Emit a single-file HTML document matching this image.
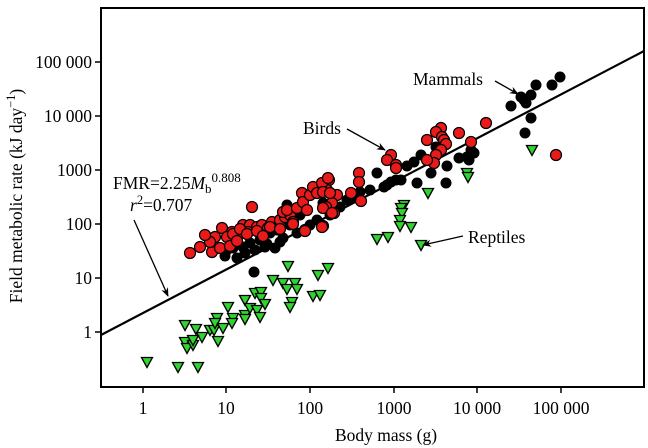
<!DOCTYPE html>
<html><head><meta charset="utf-8"><style>
html,body{margin:0;padding:0;background:#fff}
svg{display:block;font-family:"Liberation Serif",serif}
</style></head><body>
<svg width="648" height="448" viewBox="0 0 648 448" xmlns="http://www.w3.org/2000/svg">
<defs>
<marker id="ah" viewBox="0 0 10 10" refX="9" refY="5" markerWidth="9" markerHeight="9" orient="auto" markerUnits="userSpaceOnUse"><path d="M0,1 L10,5 L0,9 L3,5 Z" fill="#000"/></marker>
<path id="tri" d="M-5.5,-4.5 L5.5,-4.5 L0,5.5 Z" fill="#2fd42f" stroke="#000" stroke-width="1.3"/>
</defs>
<rect x="101" y="8" width="543" height="379" fill="none" stroke="#000" stroke-width="2"/>
<g stroke="#000" stroke-width="1.5">
<line x1="95" y1="62" x2="101" y2="62"/><line x1="95" y1="116" x2="101" y2="116"/><line x1="95" y1="170" x2="101" y2="170"/><line x1="95" y1="224" x2="101" y2="224"/><line x1="95" y1="278" x2="101" y2="278"/><line x1="95" y1="332" x2="101" y2="332"/>
<line x1="143" y1="387" x2="143" y2="393"/><line x1="226" y1="387" x2="226" y2="393"/><line x1="310" y1="387" x2="310" y2="393"/><line x1="394" y1="387" x2="394" y2="393"/><line x1="477" y1="387" x2="477" y2="393"/><line x1="561" y1="387" x2="561" y2="393"/>
</g>
<g font-size="17.5" text-anchor="end">
<text x="92" y="68">100 000</text><text x="92" y="122">10 000</text><text x="92" y="176">1000</text><text x="92" y="230">100</text><text x="92" y="284">10</text><text x="92" y="338">1</text>
</g>
<g font-size="17.5" text-anchor="middle">
<text x="143" y="414">1</text><text x="226" y="414">10</text><text x="310" y="414">100</text><text x="394" y="414">1000</text><text x="477" y="414">10 000</text><text x="561" y="414">100 000</text>
<text x="386" y="441">Body mass (g)</text>
</g>
<text transform="translate(22,196) rotate(-90)" font-size="17.5" text-anchor="middle">Field metabolic rate (kJ day<tspan dy="-7" font-size="12.5">−1</tspan><tspan dy="7">)</tspan></text>
<line x1="101" y1="335" x2="644" y2="51" stroke="#000" stroke-width="2.2"/>
<g fill="#000">
<circle cx="511" cy="106" r="5.5"/><circle cx="521" cy="97" r="5.5"/><circle cx="524" cy="100" r="5.5"/><circle cx="526" cy="103" r="5.5"/><circle cx="531" cy="95" r="5.5"/><circle cx="536" cy="85" r="5.5"/><circle cx="552" cy="85" r="5.5"/><circle cx="560" cy="77" r="5.5"/><circle cx="531" cy="118" r="5.5"/><circle cx="525" cy="133" r="5.5"/>
<circle cx="471" cy="150" r="5.5"/><circle cx="474" cy="153" r="5.5"/><circle cx="467" cy="157" r="5.5"/><circle cx="459" cy="158" r="5.5"/><circle cx="447" cy="166" r="5.5"/><circle cx="446" cy="183" r="5.5"/><circle cx="417" cy="183" r="5.5"/><circle cx="431" cy="173" r="5.5"/><circle cx="421" cy="155" r="5.5"/><circle cx="414" cy="162" r="5.5"/><circle cx="407" cy="166" r="5.5"/><circle cx="436" cy="147" r="5.5"/><circle cx="377" cy="173" r="5.5"/><circle cx="384" cy="187" r="5.5"/><circle cx="391" cy="182" r="5.5"/><circle cx="396" cy="180" r="5.5"/><circle cx="401" cy="180" r="5.5"/><circle cx="387" cy="185" r="5.5"/><circle cx="469" cy="160" r="5.5"/>
<circle cx="237" cy="258" r="5.5"/><circle cx="254" cy="272" r="5.5"/><circle cx="287" cy="205" r="5.5"/><circle cx="290" cy="213" r="5.5"/><circle cx="297" cy="233" r="5.5"/><circle cx="277" cy="230" r="5.5"/><circle cx="270" cy="233" r="5.5"/><circle cx="260" cy="240" r="5.5"/><circle cx="250" cy="243" r="5.5"/><circle cx="243" cy="247" r="5.5"/><circle cx="233" cy="248" r="5.5"/><circle cx="227" cy="250" r="5.5"/><circle cx="317" cy="220" r="5.5"/><circle cx="340" cy="207" r="5.5"/><circle cx="323" cy="203" r="5.5"/><circle cx="330" cy="215" r="5.5"/><circle cx="280" cy="242" r="5.5"/><circle cx="283" cy="238" r="5.5"/><circle cx="300" cy="215" r="5.5"/><circle cx="310" cy="225" r="5.5"/><circle cx="290" cy="225" r="5.5"/><circle cx="265" cy="247" r="5.5"/><circle cx="275" cy="248" r="5.5"/><circle cx="255" cy="250" r="5.5"/><circle cx="245" cy="253" r="5.5"/><circle cx="225" cy="256" r="5.5"/><circle cx="267" cy="244" r="5.5"/><circle cx="347" cy="200" r="5.5"/><circle cx="360" cy="192" r="5.5"/><circle cx="352" cy="197" r="5.5"/><circle cx="370" cy="190" r="5.5"/>
</g>
<g fill="#e81a1a" stroke="#000" stroke-width="1.2">
<circle cx="486" cy="123" r="5.5"/><circle cx="556" cy="155" r="5.5"/><circle cx="459" cy="133" r="5.5"/><circle cx="471" cy="142" r="5.5"/><circle cx="441" cy="128" r="5.5"/><circle cx="436" cy="132" r="5.5"/><circle cx="442" cy="137" r="5.5"/><circle cx="444" cy="140" r="5.5"/><circle cx="446" cy="144" r="5.5"/><circle cx="441" cy="150" r="5.5"/><circle cx="436" cy="155" r="5.5"/><circle cx="434" cy="163" r="5.5"/><circle cx="427" cy="160" r="5.5"/><circle cx="427" cy="140" r="5.5"/><circle cx="391" cy="155" r="5.5"/><circle cx="387" cy="160" r="5.5"/><circle cx="396" cy="165" r="5.5"/><circle cx="396" cy="168" r="5.5"/><circle cx="359" cy="173" r="5.5"/><circle cx="359" cy="182" r="5.5"/><circle cx="351" cy="193" r="5.5"/><circle cx="361" cy="201" r="5.5"/><circle cx="337" cy="195" r="5.5"/><circle cx="332" cy="203" r="5.5"/><circle cx="329" cy="180" r="5.5"/><circle cx="327" cy="190" r="5.5"/><circle cx="334" cy="213" r="5.5"/><circle cx="326" cy="207" r="5.5"/>
<circle cx="190" cy="253" r="5.5"/><circle cx="200" cy="247" r="5.5"/><circle cx="212" cy="252" r="5.5"/><circle cx="220" cy="248" r="5.5"/><circle cx="222" cy="228" r="5.5"/><circle cx="230" cy="238" r="5.5"/><circle cx="232" cy="232" r="5.5"/><circle cx="235" cy="240" r="5.5"/><circle cx="240" cy="230" r="5.5"/><circle cx="238" cy="235" r="5.5"/><circle cx="243" cy="225" r="5.5"/><circle cx="250" cy="225" r="5.5"/><circle cx="248" cy="232" r="5.5"/><circle cx="257" cy="227" r="5.5"/><circle cx="262" cy="225" r="5.5"/><circle cx="263" cy="233" r="5.5"/><circle cx="268" cy="228" r="5.5"/><circle cx="272" cy="222" r="5.5"/><circle cx="280" cy="220" r="5.5"/><circle cx="285" cy="217" r="5.5"/><circle cx="290" cy="215" r="5.5"/><circle cx="283" cy="212" r="5.5"/><circle cx="287" cy="210" r="5.5"/><circle cx="293" cy="222" r="5.5"/><circle cx="297" cy="208" r="5.5"/><circle cx="302" cy="193" r="5.5"/><circle cx="303" cy="202" r="5.5"/><circle cx="307" cy="210" r="5.5"/><circle cx="310" cy="195" r="5.5"/><circle cx="313" cy="187" r="5.5"/><circle cx="317" cy="193" r="5.5"/><circle cx="322" cy="183" r="5.5"/><circle cx="328" cy="178" r="5.5"/><circle cx="323" cy="192" r="5.5"/><circle cx="330" cy="193" r="5.5"/><circle cx="323" cy="208" r="5.5"/><circle cx="332" cy="213" r="5.5"/><circle cx="323" cy="226" r="5.5"/><circle cx="305" cy="230" r="5.5"/><circle cx="252" cy="207" r="5.5"/>
<circle cx="215" cy="237" r="5.5"/><circle cx="227" cy="237" r="5.5"/><circle cx="233" cy="234" r="5.5"/><circle cx="240" cy="229" r="5.5"/><circle cx="230" cy="246" r="5.5"/><circle cx="237" cy="241" r="5.5"/><circle cx="247" cy="234" r="5.5"/><circle cx="257" cy="231" r="5.5"/><circle cx="263" cy="236" r="5.5"/><circle cx="270" cy="227" r="5.5"/><circle cx="280" cy="229" r="5.5"/><circle cx="293" cy="224" r="5.5"/><circle cx="305" cy="231" r="5.5"/><circle cx="322" cy="227" r="5.5"/><circle cx="210" cy="242" r="5.5"/><circle cx="205" cy="235" r="5.5"/>
</g>
<g>
<use href="#tri" x="185" y="325"/><use href="#tri" x="196" y="329"/><use href="#tri" x="202" y="337"/><use href="#tri" x="185" y="342"/><use href="#tri" x="187" y="348"/><use href="#tri" x="193" y="345"/><use href="#tri" x="193" y="340"/><use href="#tri" x="210" y="330"/><use href="#tri" x="214" y="330"/><use href="#tri" x="218" y="341"/><use href="#tri" x="217" y="318"/><use href="#tri" x="215" y="323"/><use href="#tri" x="223" y="328"/><use href="#tri" x="228" y="307"/><use href="#tri" x="233" y="318"/><use href="#tri" x="232" y="323"/><use href="#tri" x="245" y="300"/><use href="#tri" x="245" y="315"/><use href="#tri" x="245" y="319"/><use href="#tri" x="250" y="308"/><use href="#tri" x="257" y="310"/><use href="#tri" x="255" y="293"/><use href="#tri" x="261" y="292"/><use href="#tri" x="261" y="298"/><use href="#tri" x="265" y="304"/><use href="#tri" x="260" y="317"/><use href="#tri" x="273" y="280"/><use href="#tri" x="283" y="283"/><use href="#tri" x="287" y="289"/><use href="#tri" x="295" y="283"/><use href="#tri" x="297" y="289"/><use href="#tri" x="288" y="266"/><use href="#tri" x="292" y="302"/><use href="#tri" x="290" y="307"/><use href="#tri" x="313" y="296"/><use href="#tri" x="320" y="295"/><use href="#tri" x="318" y="275"/><use href="#tri" x="328" y="268"/><use href="#tri" x="178" y="367"/><use href="#tri" x="198" y="367"/><use href="#tri" x="147" y="362"/>
<use href="#tri" x="532" y="150"/><use href="#tri" x="467" y="173"/><use href="#tri" x="468" y="177"/><use href="#tri" x="428" y="193"/><use href="#tri" x="404" y="205"/><use href="#tri" x="401" y="208"/><use href="#tri" x="402" y="213"/><use href="#tri" x="400" y="220"/><use href="#tri" x="377" y="239"/><use href="#tri" x="388" y="237"/><use href="#tri" x="421" y="245"/><use href="#tri" x="400" y="226"/><use href="#tri" x="411" y="227"/>
</g>
<g font-size="17.5">
<text x="413" y="85">Mammals</text>
<text x="303" y="134">Birds</text>
<text x="468" y="243">Reptiles</text>
<text x="113" y="189">FMR=2.25<tspan font-style="italic">M</tspan><tspan dy="4" font-size="13">b</tspan><tspan dy="-11" font-size="13">0.808</tspan></text>
<text x="130" y="211"><tspan font-style="italic">r</tspan><tspan dy="-7" font-size="12.5">2</tspan><tspan dy="7">=0.707</tspan></text>
</g>
<g stroke="#000" stroke-width="1.3" fill="none" marker-end="url(#ah)">
<line x1="495" y1="81" x2="518" y2="94"/>
<line x1="347" y1="129" x2="385" y2="150"/>
<line x1="463" y1="236" x2="423" y2="245"/>
<line x1="134" y1="220" x2="168" y2="296"/>
</g>
</svg>
</body></html>
